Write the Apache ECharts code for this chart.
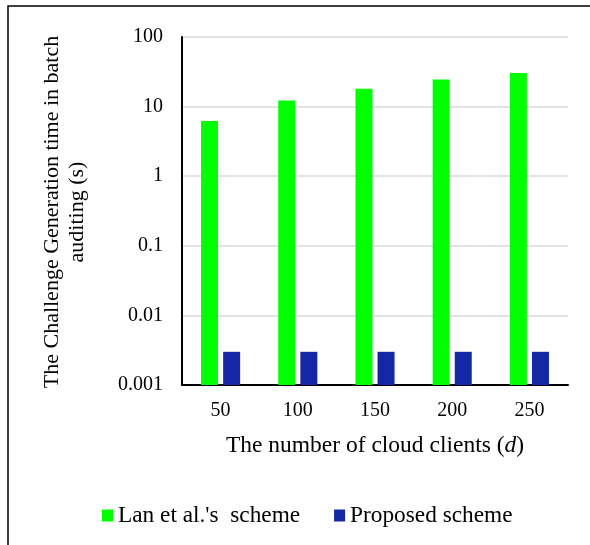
<!DOCTYPE html>
<html>
<head>
<meta charset="utf-8">
<script src="https://cdn.jsdelivr.net/npm/echarts@6/dist/echarts.min.js"></script>
<style>
  html, body { margin: 0; padding: 0; background: #fff; }
  #chart { width: 590px; height: 545px; }
</style>
</head>
<body>
<div id="chart"></div>
<script>
// data
var clients = ['50', '100', '150', '200', '250'];
var lanScheme = [6.2, 12.2, 18.1, 24.6, 30.4];
var proposedScheme = [0.003, 0.003, 0.003, 0.003, 0.003];
var yTicks = ['0.001', '0.01', '0.1', '1', '10', '100'];

var font = '"Liberation Serif", "Times New Roman", serif';

var chart = echarts.init(document.getElementById('chart'));

chart.setOption({
  animation: false,
  backgroundColor: '#fff',
  textStyle: { fontFamily: font, color: '#000' },
  grid: { left: 182, right: 22, top: 37, bottom: 160 },
  legend: {
    top: 499,
    left: 97,
    itemWidth: 11,
    itemHeight: 12,
    itemGap: 34,
    icon: 'rect',
    textStyle: { fontFamily: font, fontSize: 23.3, color: '#000' },
    data: ["Lan et al.'s  scheme", 'Proposed scheme']
  },
  graphic: [
    {
      type: 'rect',
      shape: { x: 8, y: 6, width: 700, height: 700 },
      style: { fill: 'none', stroke: '#000', lineWidth: 1.5 },
      silent: true
    },
    {
      type: 'text',
      x: 52, y: 212,
      rotation: Math.PI / 2,
      style: {
        text: 'The Challenge Generation time in batch',
        font: '22px ' + font,
        fill: '#000',
        align: 'center',
        verticalAlign: 'middle'
      }
    },
    {
      type: 'text',
      x: 77, y: 212,
      rotation: Math.PI / 2,
      style: {
        text: 'auditing (s)',
        font: '22px ' + font,
        fill: '#000',
        align: 'center',
        verticalAlign: 'middle'
      }
    }
  ],
  xAxis: {
    type: 'category',
    data: clients,
    name: '{n|The number of cloud clients (}{i|d}{n|)}',
    nameLocation: 'middle',
    nameGap: 49,
    nameTextStyle: {
      rich: {
        n: { fontFamily: font, fontSize: 23.5, color: '#000' },
        i: { fontFamily: font, fontSize: 23.5, color: '#000', fontStyle: 'italic' }
      }
    },
    axisLine: { lineStyle: { color: '#000', width: 2 } },
    axisTick: { show: false },
    axisLabel: { fontFamily: font, fontSize: 20, color: '#000', margin: 16 }
  },
  yAxis: {
    type: 'log',
    logBase: 10,
    min: 0.001,
    max: 100,
    startValue: 0.001,
    axisLine: { show: true, lineStyle: { color: '#000', width: 2 } },
    axisTick: { show: false },
    splitLine: { lineStyle: { color: '#d9d9d9', width: 1.5 } },
    axisLabel: {
      fontFamily: font, fontSize: 20, color: '#000', margin: 19,
      formatter: function (v) {
        var k = Math.round(Math.log(v) / Math.LN10) + 3;
        return yTicks[k] !== undefined ? yTicks[k] : '';
      }
    }
  },
  series: [
    {
      name: "Lan et al.'s  scheme",
      type: 'bar',
      data: lanScheme,
      barWidth: 17,
      barGap: '30%',
      itemStyle: { color: '#00ff00' }
    },
    {
      name: 'Proposed scheme',
      type: 'bar',
      data: proposedScheme,
      barWidth: 17,
      itemStyle: { color: '#1428a6' }
    }
  ]
});
</script>
</body>
</html>
